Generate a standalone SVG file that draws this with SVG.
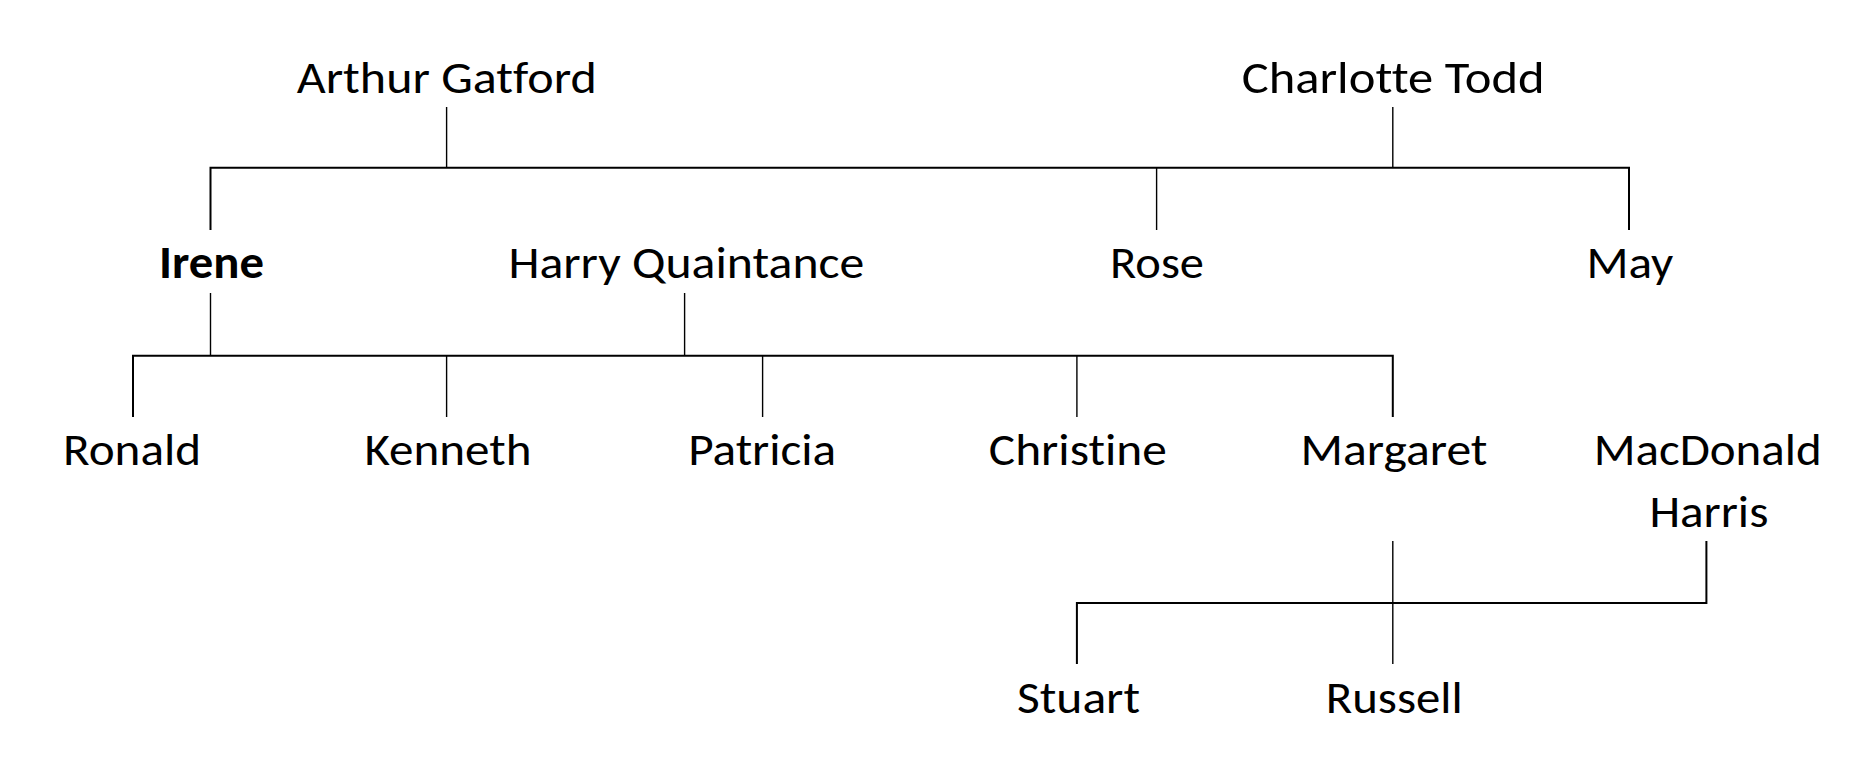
<svg xmlns="http://www.w3.org/2000/svg" width="1876" height="770" viewBox="0 0 1876 770">
<style>
text{font-family:Carlito,"Open Sans","Liberation Sans",sans-serif;font-size:46px;fill:#000;font-variant-ligatures:none}
.b{font-weight:bold}
.h{stroke:#000;stroke-width:2;fill:none}
.v{stroke:#000;stroke-width:1.4;fill:none}
</style>
<rect width="1876" height="770" fill="#fff"/>
<g id="connectors">
<path class="h" d="M210.5,230V167.7H1629V230"/>
<line class="v" x1="446.6" y1="107" x2="446.6" y2="167.7"/>
<line class="v" x1="1392.8" y1="107" x2="1392.8" y2="167.7"/>
<line class="v" x1="1156.6" y1="167.7" x2="1156.6" y2="230"/>
<path class="h" d="M133,417V355.7H1392.8V417"/>
<line class="v" x1="210.5" y1="293" x2="210.5" y2="355.7"/>
<line class="v" x1="684.6" y1="293" x2="684.6" y2="355.7"/>
<line class="v" x1="446.6" y1="355.7" x2="446.6" y2="417"/>
<line class="v" x1="762.6" y1="355.7" x2="762.6" y2="417"/>
<line class="v" x1="1076.9" y1="355.7" x2="1076.9" y2="417"/>
<path class="h" d="M1076.9,664V603H1706.4V541"/>
<line class="v" x1="1392.8" y1="541" x2="1392.8" y2="664"/>
</g>
<g id="arthur"><text x="296.7" y="93" textLength="300" lengthAdjust="spacingAndGlyphs">Arthur Gatford</text></g>
<g id="charlotte"><text x="1241.7" y="93" textLength="303" lengthAdjust="spacingAndGlyphs">Charlotte Todd</text></g>
<g id="irene"><text class="b" x="159" y="278" textLength="105" lengthAdjust="spacingAndGlyphs">Irene</text></g>
<g id="harry"><text x="508.4" y="278" textLength="356" lengthAdjust="spacingAndGlyphs">Harry Quaintance</text></g>
<g id="rose"><text x="1110" y="278" textLength="94" lengthAdjust="spacingAndGlyphs">Rose</text></g>
<g id="may"><text x="1586.4" y="278" textLength="87" lengthAdjust="spacingAndGlyphs">May</text></g>
<g id="ronald"><text x="63" y="465" textLength="138" lengthAdjust="spacingAndGlyphs">Ronald</text></g>
<g id="kenneth"><text x="364.5" y="465" textLength="167" lengthAdjust="spacingAndGlyphs">Kenneth</text></g>
<g id="patricia"><text x="688.2" y="465" textLength="148" lengthAdjust="spacingAndGlyphs">Patricia</text></g>
<g id="christine"><text x="988.8" y="465" textLength="178" lengthAdjust="spacingAndGlyphs">Christine</text></g>
<g id="margaret"><text x="1300.5" y="465" textLength="187" lengthAdjust="spacingAndGlyphs">Margaret</text></g>
<g id="macdonald"><text x="1593.7" y="465" textLength="228" lengthAdjust="spacingAndGlyphs">MacDonald</text><text x="1649.4" y="527" textLength="119" lengthAdjust="spacingAndGlyphs">Harris</text></g>
<g id="stuart"><text x="1017" y="713" textLength="123" lengthAdjust="spacingAndGlyphs">Stuart</text></g>
<g id="russell"><text x="1325.7" y="713" textLength="137" lengthAdjust="spacingAndGlyphs">Russell</text></g>
</svg>
